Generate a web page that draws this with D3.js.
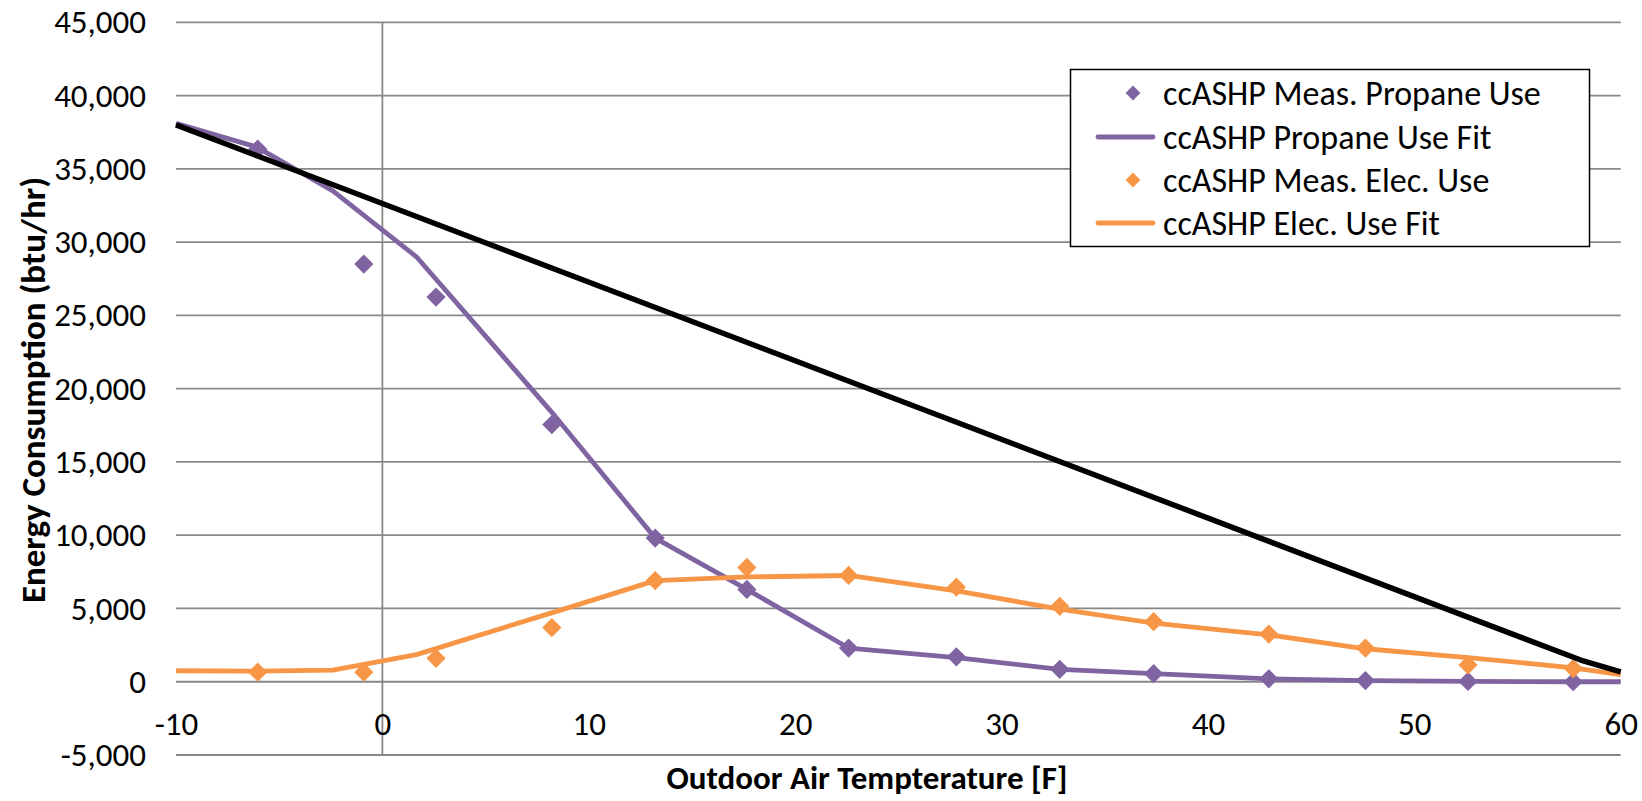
<!DOCTYPE html>
<html>
<head>
<meta charset="utf-8">
<script src="https://cdn.jsdelivr.net/npm/d3@7"></script>
<style>
  body { margin: 0; background: #fff; }
  svg text { font-family: Carlito, Calibri, Lato, sans-serif; fill: #000; }
</style>
</head>
<body>
<svg id="chart" width="1642" height="801"></svg>
<script>
// measured points (outdoor temp, btu/hr)
const measTemps = [-6.04, -0.9, 2.6, 8.21, 13.22, 17.66, 22.59, 27.81, 32.82, 37.37, 42.95, 47.63, 52.6, 57.7];
const propaneMeas = [36350, 28500, 26250, 17550, 9800, 6300, 2300, 1700, 850, 550, 200, 80, 20, 0];
const elecMeas = [650, 650, 1600, 3700, 6900, 7800, 7250, 6450, 5150, 4100, 3250, 2300, 1150, 900];

// fit curves
const fitTemps = [-10, -6.1, -2.4, 1.65, 8.2, 13.22, 17.66, 22.59, 27.81, 32.82, 37.37, 42.95, 47.63, 52.6, 57.7, 60];
const propaneFit = [38100, 36500, 33500, 29000, 18400, 9800, 6300, 2300, 1650, 850, 550, 200, 80, 20, 0, 0];
const elecFit = [750, 720, 790, 1850, 4700, 6900, 7150, 7250, 6200, 4950, 4000, 3200, 2250, 1650, 950, 480];

// black line (no legend entry)
const blackTemps = [-10, 58.06, 60];
const blackLine = [38000, 1480, 680];

const seriesNames = ["ccASHP Meas. Propane Use", "ccASHP Propane Use Fit", "ccASHP Meas. Elec. Use", "ccASHP Elec. Use Fit"];
const xTicks = [-10, 0, 10, 20, 30, 40, 50, 60];
const yTicks = [-5000, 0, 5000, 10000, 15000, 20000, 25000, 30000, 35000, 40000, 45000];

const purple = "#8064A2", orange = "#F79646", grid = "#878787";

// plain hyphen for negatives, like the spreadsheet
const fmt = d3.formatLocale({ decimal: ".", thousands: ",", grouping: [3], currency: ["$", ""], minus: "-" }).format(",");

const svg = d3.select("#chart");

const x = d3.scaleLinear().domain([-10, 60]).range([176, 1620.7]);
const y = d3.scaleLinear().domain([-5000, 45000]).range([755, 22.3]);

// horizontal gridlines
svg.append("g")
  .selectAll("line")
  .data(yTicks)
  .join("line")
  .attr("x1", x(-10)).attr("x2", x(60))
  .attr("y1", d => y(d)).attr("y2", d => y(d))
  .attr("stroke", grid).attr("stroke-width", 1.8);

// vertical axis line at x = 0
svg.append("line")
  .attr("x1", x(0)).attr("x2", x(0))
  .attr("y1", y(45000)).attr("y2", y(-5000))
  .attr("stroke", grid).attr("stroke-width", 1.8);

// y axis labels
const yAxis = svg.append("g")
  .attr("transform", `translate(${x(-10)},0)`)
  .call(d3.axisLeft(y).tickValues(yTicks).tickSize(0).tickPadding(30).tickFormat(fmt));
yAxis.select(".domain").remove();
yAxis.selectAll("text").style("font-size", "33px").attr("fill", "#000");

// x axis labels, sitting just under the zero line
const xAxis = svg.append("g")
  .attr("transform", `translate(0,${y(0)})`)
  .call(d3.axisBottom(x).tickValues(xTicks).tickSize(0).tickPadding(0).tickFormat(fmt));
xAxis.select(".domain").remove();
xAxis.selectAll("text").style("font-size", "33px").attr("y", 42).attr("dy", "0.35em").attr("fill", "#000");

// axis titles
svg.append("text")
  .attr("transform", `translate(45,390) rotate(-90)`)
  .attr("text-anchor", "middle")
  .style("font-size", "35px").style("font-weight", "bold")
  .text("Energy Consumption (btu/hr)");

svg.append("text")
  .attr("x", 867).attr("y", 789)
  .attr("text-anchor", "middle")
  .style("font-size", "33px").style("font-weight", "bold")
  .text("Outdoor Air Tempterature [F]");

const line = d3.line().x(d => x(d[0])).y(d => y(d[1]));
const diamond = d3.symbol().type(d3.symbolSquare).size(185);

// propane fit + points
svg.append("path")
  .datum(d3.zip(fitTemps, propaneFit))
  .attr("d", line).attr("fill", "none")
  .attr("stroke", purple).attr("stroke-width", 4.8).attr("stroke-linejoin", "round");

svg.append("g")
  .selectAll("path")
  .data(d3.zip(measTemps, propaneMeas))
  .join("path")
  .attr("d", diamond)
  .attr("transform", d => `translate(${x(d[0])},${y(d[1])}) rotate(45)`)
  .attr("fill", purple);

// elec fit + points
svg.append("path")
  .datum(d3.zip(fitTemps, elecFit))
  .attr("d", line).attr("fill", "none")
  .attr("stroke", orange).attr("stroke-width", 4.8).attr("stroke-linejoin", "round");

svg.append("g")
  .selectAll("path")
  .data(d3.zip(measTemps, elecMeas))
  .join("path")
  .attr("d", diamond)
  .attr("transform", d => `translate(${x(d[0])},${y(d[1])}) rotate(45)`)
  .attr("fill", orange);

// black line
svg.append("path")
  .datum(d3.zip(blackTemps, blackLine))
  .attr("d", line).attr("fill", "none")
  .attr("stroke", "#000").attr("stroke-width", 5.5).attr("stroke-linejoin", "round");

// legend
const legend = svg.append("g");
legend.append("rect")
  .attr("x", 1070.5).attr("y", 69.5).attr("width", 519).attr("height", 177)
  .attr("fill", "#fff").attr("stroke", "#000").attr("stroke-width", 1.5);

const rowY = [93, 137, 180, 223];
const legendColors = [purple, purple, orange, orange];
seriesNames.forEach((name, i) => {
  const g = legend.append("g").attr("transform", `translate(0,${rowY[i]})`);
  if (i % 2 === 0) {
    g.append("path")
      .attr("d", d3.symbol().type(d3.symbolSquare).size(110))
      .attr("transform", "translate(1133,0) rotate(45)")
      .attr("fill", legendColors[i]);
  } else {
    g.append("line")
      .attr("x1", 1098).attr("x2", 1153)
      .attr("stroke", legendColors[i]).attr("stroke-width", 4.8).attr("stroke-linecap", "round");
  }
  g.append("text")
    .attr("x", 1163).attr("dy", "0.35em")
    .style("font-size", "34px")
    .text(name);
});
</script>
</body>
</html>
